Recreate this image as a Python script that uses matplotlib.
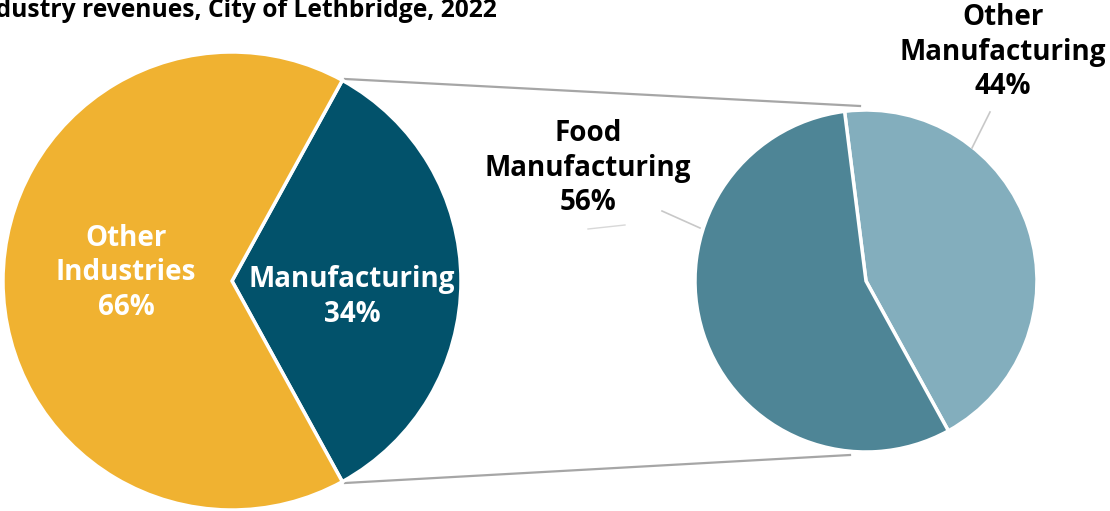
import matplotlib
matplotlib.use("Agg")
import matplotlib.pyplot as plt

plt.rcParams['font.family'] = ['Open Sans', 'DejaVu Sans']

# data
main_labels = ['Manufacturing', 'Other\nIndustries']
main_shares = [34, 66]
main_colors = ['#02526b', '#f0b231']

sub_labels = ['Other\nManufacturing', 'Food\nManufacturing']
sub_shares = [44, 56]
sub_colors = ['#83aebd', '#4e8596']

title = 'Industry revenues, City of Lethbridge, 2022'

W, H = 1110, 511
fig = plt.figure(figsize=(W / 100, H / 100), dpi=100)
ax = fig.add_axes([0, 0, 1, 1])

# geometry in pixel units (y measured from bottom)
c1, r1 = (232, H - 281), 229
c2, r2 = (866, H - 281), 171
start = -main_shares[0] * 3.6 / 2

ax.pie(main_shares, colors=main_colors, startangle=start, counterclock=True,
       center=c1, radius=r1,
       wedgeprops=dict(edgecolor='white', linewidth=2.5))
ax.pie(sub_shares, colors=sub_colors, startangle=start, counterclock=True,
       center=c2, radius=r2,
       wedgeprops=dict(edgecolor='white', linewidth=2.5))

ax.set_xlim(0, W)
ax.set_ylim(0, H)
ax.set_aspect('equal')
ax.axis('off')

# connector lines between the two pies
ax.plot([345, 860], [H - 79, H - 106], color='#a6a6a6', lw=1.6, zorder=0)
ax.plot([345, 850], [H - 483, H - 455], color='#a6a6a6', lw=1.6, zorder=0)

fs = 20
ls = 1.24
# labels inside the main pie
ax.text(126, H - 273, f'{main_labels[1]}\n{main_shares[1]}%', color='white',
        fontsize=fs, fontweight='bold', ha='center', va='center', linespacing=ls)
ax.text(352, H - 297, f'{main_labels[0]}\n{main_shares[0]}%', color='white',
        fontsize=fs, fontweight='bold', ha='center', va='center', linespacing=ls)

# labels outside the sub pie, with leader lines
ax.text(588, H - 168, f'{sub_labels[1]}\n{sub_shares[1]}%', color='black',
        fontsize=fs, fontweight='bold', ha='center', va='center', linespacing=ls)
ax.plot([662, 700], [H - 211, H - 228], color='#c8c8c8', lw=1.2)
ax.plot([588, 625], [H - 229, H - 225], color='#d8d8d8', lw=1.0)

ax.text(1003, H - 52, f'{sub_labels[0]}\n{sub_shares[0]}%', color='black',
        fontsize=fs, fontweight='bold', ha='center', va='center', linespacing=ls)
ax.plot([990, 972], [H - 112, H - 148], color='#c8c8c8', lw=1.2)

# title, clipped on the left like the source
ax.text(497, H - 17, title, color='black', fontsize=17.7, fontweight='bold',
        ha='right', va='baseline')

fig.savefig('out.png', dpi=100)
